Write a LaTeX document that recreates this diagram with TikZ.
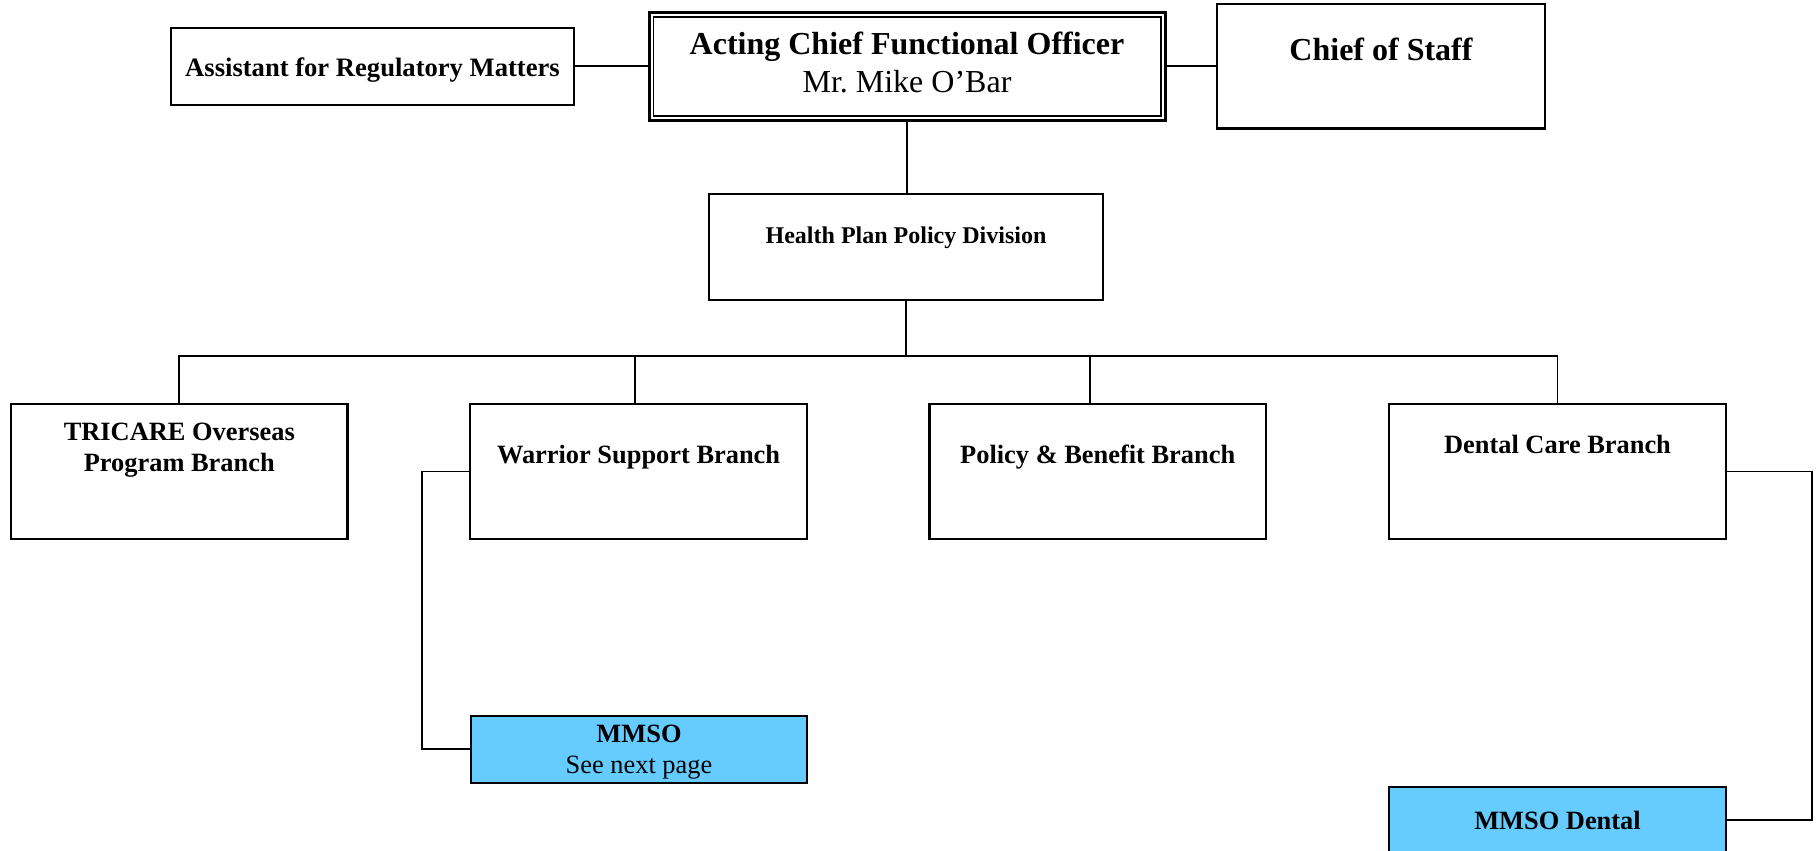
\documentclass[tikz,border=0pt]{standalone}
\usepackage{fontspec}
\setmainfont{Liberation Serif}
\definecolor{mmsoblue}{HTML}{66CCFF}

\begin{document}
\begin{tikzpicture}[x=0.5pt, y=-0.5pt,
	box/.style={draw, line width=1.1pt, rectangle, inner sep=0pt},
	branch/.style={box, minimum width=168.25pt, minimum height=67.5pt, font=\fontsize{13.2}{15.8}\selectfont\bfseries},
	office/.style={box, minimum width=168.3pt, minimum height=33.35pt, fill=mmsoblue, font=\fontsize{13.2}{15.3}\selectfont},
	link/.style={line width=0.95pt}]
			%%%%% START %%%%%
			\useasboundingbox (0,0) rectangle (1816,851);
			\clip (0,0) rectangle (1816,851);
			
			% top row
			\node[box, line width=1.5pt, minimum width=258pt, minimum height=53.75pt, text height=20.9pt, text depth=32.85pt, font=\fontsize{16}{19}\selectfont] (acfo) at (907, 66.25) {\begin{tabular}[t]{@{}c@{}}\bfseries Acting Chief Functional Officer\\Mr.\ Mike O'Bar\end{tabular}};
			\draw[line width=0.8pt] ([shift={(2.9pt,-2.9pt)}]acfo.north west) rectangle ([shift={(-2.9pt,2.9pt)}]acfo.south east);
			
			\node[box, minimum width=201.8pt, minimum height=38.35pt, text height=24pt, text depth=14.35pt, font=\fontsize{13.3}{16}\selectfont\bfseries] (asst) at (372.5, 66.35) {Assistant for Regulatory Matters};
			\node[box, minimum width=164pt, minimum height=62.2pt, text height=28.5pt, text depth=33.7pt, font=\fontsize{16}{19}\selectfont\bfseries] (cos) at (1381, 66.2) {Chief of Staff};
			
			\draw[link] (asst.east) -- (asst.east -| acfo.west);
			\draw[link] (acfo.east) -- (acfo.east -| cos.west);
			
			% division
			\node[box, minimum width=196.7pt, minimum height=53pt, text height=24.8pt, text depth=28.2pt, font=\fontsize{12}{14.4}\selectfont\bfseries] (hppd) at (906, 246.7) {Health Plan Policy Division};
			\draw[link] (acfo.south) -- (acfo.south |- hppd.north);
			
			% branches
			\node[branch, text height=18pt, text depth=49.5pt] (tob) at (179.3, 471.5) {\begin{tabular}[t]{@{}c@{}}TRICARE Overseas\\Program Branch\end{tabular}};
			\node[branch, text height=29.65pt, text depth=37.85pt] (wsb) at (638.6, 471.5) {Warrior Support Branch};
			\node[branch, text height=29.65pt, text depth=37.85pt] (pbb) at (1097.7, 471.5) {Policy \& Benefit Branch};
			\node[branch, text height=24.65pt, text depth=42.85pt] (dcb) at (1557.5, 471.5) {Dental Care Branch};
			
			\coordinate (bus) at (906, 356);
			\draw[link] (hppd.south) -- (bus);
			\draw[link] (tob.north) |- (bus) -| (dcb.north);
			\draw[link] ([xshift=-2pt]wsb.north) -- ([xshift=-2pt]wsb.north |- bus);
			\draw[link] ([xshift=-4pt]pbb.north) -- ([xshift=-4pt]pbb.north |- bus);
			
			% offices
			\node[office, text height=13.35pt, text depth=20pt] (mmso) at (639, 749.35) {\begin{tabular}[t]{@{}c@{}}\bfseries MMSO\\See next page\end{tabular}};
			\node[office, text height=21.3pt, text depth=12.05pt, font=\fontsize{13.2}{15.3}\selectfont\bfseries] (mmsod) at (1557.5, 820) {MMSO Dental};
			
			\draw[link] (wsb.west) -- ++(-47.4, 0) |- (mmso.west);
			\draw[link] (dcb.east) -- ++(85.3, 0) |- (mmsod.east);
			
			%%%%% END %%%%%
\end{tikzpicture}
\end{document}
